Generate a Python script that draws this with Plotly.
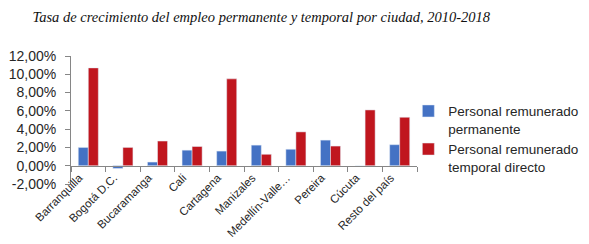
import plotly.graph_objects as go

categorias = ["Barranquilla", "Bogotá D.C.", "Bucaramanga", "Cali", "Cartagena",
              "Manizales", "Medellín-Valle…", "Pereira", "Cúcuta", "Resto del país"]
permanente = [2.0, -0.3, 0.4, 1.7, 1.6, 2.25, 1.8, 2.8, 0.0, 2.3]
temporal = [10.7, 2.0, 2.7, 2.1, 9.5, 1.25, 3.7, 2.15, 6.1, 5.3]
ytick_vals = [-2, 0, 2, 4, 6, 8, 10, 12]
ytick_text = ["-2,00%", "0,00%", "2,00%", "4,00%", "6,00%", "8,00%", "10,00%", "12,00%"]

W, H = 589, 244
L, R, T, B = 63, 180, 48, 68
ymin, ymax = -2, 12

fig = go.Figure()
fig.add_trace(go.Bar(x=categorias, y=permanente, name="Personal remunerado<br>permanente",
                     marker_color="#4472C4"))
fig.add_trace(go.Bar(x=categorias, y=temporal, name="Personal remunerado<br>temporal directo",
                     marker_color="#C0161E"))

zero_pos = (0 - ymin) / (ymax - ymin)
font = dict(family="Liberation Sans", size=12, color="#262626")

fig.update_layout(
    width=W, height=H,
    margin=dict(l=L, r=R, t=T, b=B, pad=0, autoexpand=False),
    paper_bgcolor="white", plot_bgcolor="white",
    barmode="group", bargap=0.42, bargroupgap=0,
    font=font,
    title=dict(text="<i>Tasa de crecimiento del empleo permanente y temporal por ciudad, 2010-2018</i>",
               font=dict(family="Liberation Serif", size=14.5, color="#111111"),
               x=0.43, xanchor="center", xref="container", y=0.985, yanchor="top", yref="container"),
    xaxis=dict(type="category", showline=False, ticks="", tickangle=-45, automargin=False,
               range=[-0.5, 9.5], tickfont=dict(size=11.5), showgrid=False,
               ticklabelstandoff=-16, ticklabelshift=-9),
    xaxis2=dict(overlaying="x", anchor="free", position=zero_pos, range=[-0.5, 9.5],
                showline=True, linecolor="#868686", linewidth=1, ticks="outside",
                tickcolor="#868686", ticklen=5, automargin=False,
                tickmode="array", tickvals=[i - 0.5 for i in range(11)],
                showticklabels=False, showgrid=False, zeroline=False),
    yaxis=dict(range=[ymin, ymax], tickmode="array", tickvals=ytick_vals, ticktext=ytick_text,
               showline=True, linecolor="#868686", automargin=False,
               ticks="outside", tickcolor="#868686", ticklen=5, showgrid=False,
               ticklabelstandoff=6, zeroline=False, tickfont=dict(size=14)),
    legend=dict(x=0.975, xanchor="left", y=0.69, yanchor="top", valign="top",
                font=dict(size=13.5), tracegroupgap=6, bgcolor="rgba(0,0,0,0)"),
)
# invisible trace so the zero-line category axis (xaxis2) is drawn
fig.add_trace(go.Scatter(x=[0], y=[0], xaxis="x2", mode="markers",
                         marker=dict(opacity=0), showlegend=False, hoverinfo="skip"))

fig.write_html("out.html")
